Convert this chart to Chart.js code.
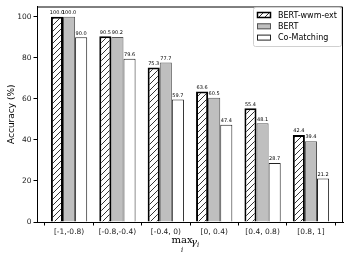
<!DOCTYPE html>
<html>
<head>
<meta charset="utf-8">
<script src="https://cdn.jsdelivr.net/npm/chart.js@4/dist/chart.umd.min.js"></script>
<style>
  html, body { margin: 0; padding: 0; background: #fff; }
  #wrap { width: 349px; height: 258px; }
</style>
</head>
<body>
<div id="wrap"><canvas id="chart_main" width="349" height="258"></canvas></div>
<script>
"use strict";

// データ
const categories = ['[-1,-0.8)', '[-0.8,-0.4)', '[-0.4, 0)', '[0, 0.4)', '[0.4, 0.8)', '[0.8, 1]'];
const wwm_vals   = [100.0, 90.5, 75.3, 63.6, 55.4, 42.4];
const bert_vals  = [100.0, 90.2, 77.7, 60.5, 48.1, 39.4];
const co_vals    = [90.0, 79.6, 59.7, 47.4, 28.7, 21.2];
const y_ticks    = [0, 20, 40, 60, 80, 100];
const series_na  = ['BERT-wwm-ext', 'BERT', 'Co-Matching'];

// ハッチ
function makeHatch() {
    const c = document.createElement('canvas');
    c.width = 6; c.height = 6;
    const g = c.getContext('2d');
    g.fillStyle = '#fff';
    g.fillRect(0, 0, 6, 6);
    g.strokeStyle = '#000';
    g.lineWidth = 0.8;
    g.beginPath();
    g.moveTo(-1, 7); g.lineTo(7, -1);
    g.moveTo(-1, 1); g.lineTo(1, -1);
    g.moveTo(5, 7); g.lineTo(7, 5);
    g.stroke();
    return g.createPattern(c, 'repeat');
}
const hatch = makeHatch();

const styles = [
    { bg: hatch,     bd: '#000', bw: 2 },
    { bg: '#bfbfbf', bd: '#555', bw: 1 },
    { bg: '#fff',    bd: '#222', bw: 1 },
];

const toXY = arr => arr.map((v, i) => ({ x: i, y: v }));

// 枠
const framePlugin = {
    id: 'frame',
    afterDraw(chart) {
        const { ctx, chartArea: a } = chart;
        ctx.save();
        ctx.strokeStyle = '#000';
        ctx.lineWidth = 1;
        ctx.beginPath();
        ctx.moveTo(a.left, a.top + 0.5);
        ctx.lineTo(a.right - 0.5, a.top + 0.5);
        ctx.lineTo(a.right - 0.5, a.bottom);
        ctx.stroke();
        ctx.restore();
    }
};

// 数値ラベル
const valuePlugin = {
    id: 'vals',
    afterDatasetsDraw(chart) {
        const ctx = chart.ctx;
        ctx.save();
        ctx.font = '5px "DejaVu Sans"';
        ctx.fillStyle = '#000';
        ctx.textAlign = 'center';
        ctx.textBaseline = 'bottom';
        chart.data.datasets.forEach((ds, di) => {
            chart.getDatasetMeta(di).data.forEach((bar, i) => {
                ctx.fillText(ds.data[i].y.toFixed(1), bar.x, bar.y - 1.5);
            });
        });
        ctx.restore();
    }
};

// 凡例
const legendPlugin = {
    id: 'box_legend',
    afterDraw(chart) {
        const ctx = chart.ctx;
        const x0 = 253, y0 = 7, w = 88, h = 39;
        ctx.save();
        ctx.fillStyle = 'rgba(255,255,255,0.8)';
        ctx.strokeStyle = '#d0d0d0';
        ctx.lineWidth = 1;
        ctx.beginPath();
        ctx.roundRect(x0 + 0.5, y0 + 0.5, w, h, 2);
        ctx.fill();
        ctx.stroke();
        ctx.font = '8px "DejaVu Sans"';
        ctx.textBaseline = 'middle';
        series_na.forEach((name, i) => {
            const cy = y0 + 8 + i * 11.3;
            const st = styles[i];
            ctx.fillStyle = st.bg;
            ctx.fillRect(257, cy - 3, 14, 6);
            ctx.strokeStyle = st.bd;
            ctx.lineWidth = st.bw === 2 ? 1.5 : 1;
            ctx.strokeRect(257.5, cy - 2.5, 13, 5);
            ctx.fillStyle = '#000';
            ctx.fillText(name, 278, cy + 0.5);
        });
        ctx.restore();
    }
};

// x軸タイトル  max_i γ_i
const xTitlePlugin = {
    id: 'xtitle',
    afterDraw(chart) {
        const ctx = chart.ctx;
        ctx.save();
        ctx.fillStyle = '#000';
        ctx.textBaseline = 'alphabetic';
        ctx.textAlign = 'center';
        ctx.font = '10px "DejaVu Serif"';
        ctx.fillText('max', 182, 243);
        ctx.font = 'italic 7px "DejaVu Serif"';
        ctx.fillText('i', 182, 252);
        ctx.textAlign = 'left';
        ctx.font = 'italic 10px "DejaVu Serif"';
        ctx.fillText('γ', 191, 245);
        ctx.font = 'italic 7px "DejaVu Serif"';
        ctx.fillText('i', 197, 247);
        ctx.restore();
    }
};

const ctx = document.getElementById('chart_main');
const chart = new Chart(ctx, {
    type: 'bar',
    data: {
        datasets: [wwm_vals, bert_vals, co_vals].map((vals, i) => ({
            label: series_na[i],
            data: toXY(vals),
            backgroundColor: styles[i].bg,
            borderColor: styles[i].bd,
            borderWidth: styles[i].bw,
            borderSkipped: 'bottom',
            categoryPercentage: 0.75,
            barPercentage: 1.0,
        })),
    },
    options: {
        responsive: false,
        animation: false,
        layout: { padding: { left: 6, right: 6, top: 5, bottom: 0 } },
        plugins: {
            legend: { display: false },
            tooltip: { enabled: false },
        },
        scales: {
            x: {
                type: 'linear',
                min: -0.6625,
                max: 5.6625,
                offset: false,
                afterBuildTicks: axis => { axis.ticks = categories.map((_, i) => ({ value: i })); },
                afterFit: axis => { axis.height = 36; },
                grid: { display: true, drawOnChartArea: false, tickLength: 3.5, color: '#000', tickWidth: 1 },
                border: { display: true, color: '#000', width: 1 },
                ticks: {
                    callback: v => categories[v] ?? '',
                    color: '#222',
                    font: { family: 'DejaVu Sans', size: 7.5 },
                    padding: 2,
                    maxRotation: 0,
                    autoSkip: false,
                },
            },
            y: {
                min: 0,
                max: 105,
                afterBuildTicks: axis => { axis.ticks = y_ticks.map(v => ({ value: v })); },
                afterFit: axis => { axis.width = 31; },
                grid: { display: true, drawOnChartArea: false, tickLength: 3.5, color: '#000', tickWidth: 1 },
                border: { display: true, color: '#000', width: 1 },
                ticks: {
                    color: '#222',
                    font: { family: 'DejaVu Sans', size: 7.5 },
                    padding: 2,
                },
                title: {
                    display: true,
                    text: 'Accuracy (%)',
                    color: '#000',
                    font: { family: 'DejaVu Sans', size: 9 },
                    padding: { top: 0, bottom: 2 },
                },
            },
        },
    },
    plugins: [valuePlugin, framePlugin, legendPlugin, xTitlePlugin],
});
</script>
</body>
</html>
